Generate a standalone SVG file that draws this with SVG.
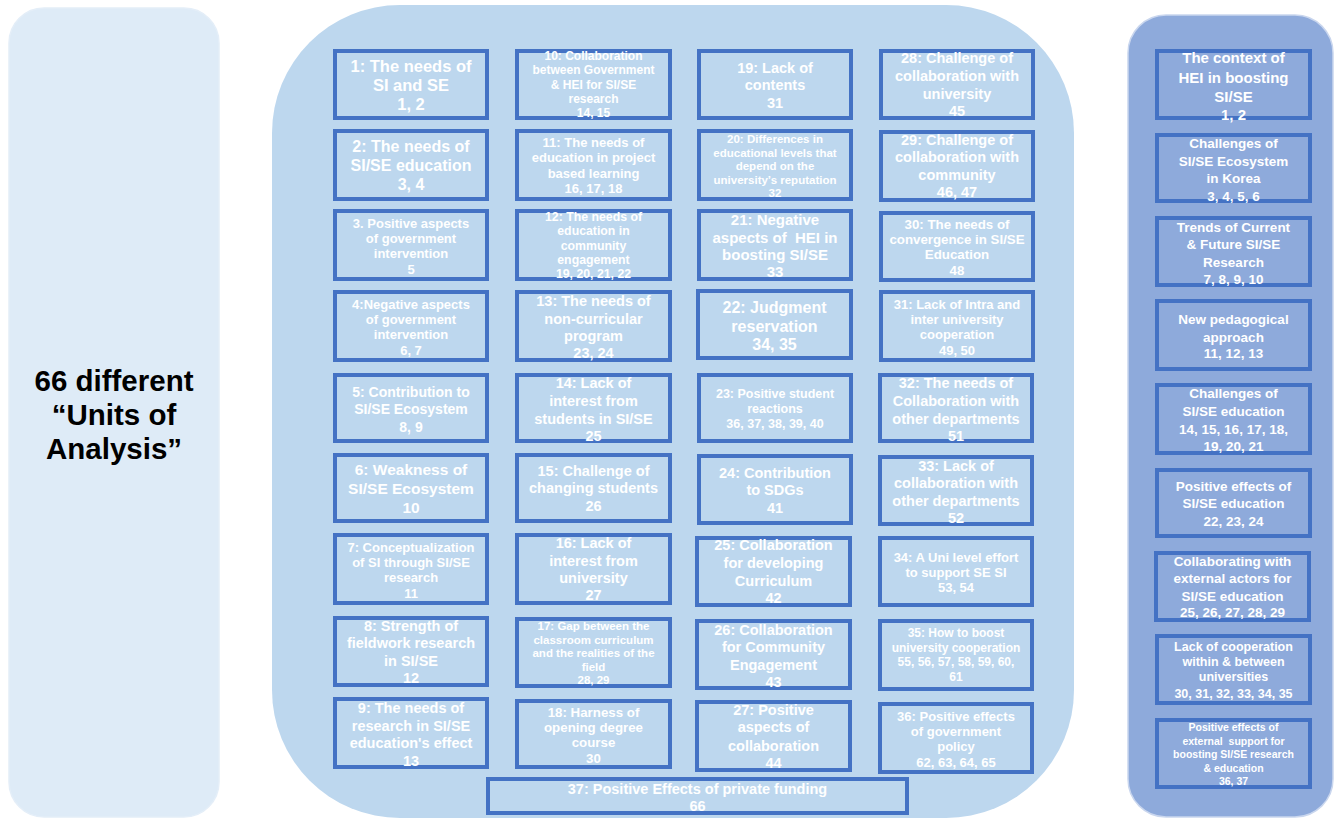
<svg xmlns="http://www.w3.org/2000/svg" width="1335" height="818" viewBox="0 0 1335 818">
<style>
.box{fill:none;stroke:#4472c4;stroke-width:4}
.t{font-family:"Liberation Sans",Arial,sans-serif;font-weight:700;fill:#ffffff;text-anchor:middle;dominant-baseline:central}
.big{font-family:"Liberation Sans",Arial,sans-serif;font-weight:700;fill:#000000;text-anchor:middle;dominant-baseline:central;font-size:29.5px}
</style>
<rect id="panel-left" x="9" y="8" width="210" height="809" rx="35" fill="#deebf7" stroke="#e4eef8" stroke-width="1.5"/>
<rect id="panel-mid" x="272" y="5" width="802" height="813" rx="128" fill="#bdd7ee"/>
<rect id="panel-right" x="1128" y="15" width="205" height="802" rx="38" fill="#8eaadb" stroke="#c9d6ee" stroke-width="1.5"/>
<g id="left-label"><text class="big"><tspan x="114" y="380">66 different</tspan><tspan x="114" y="414">“Units of</tspan><tspan x="114" y="448">Analysis”</tspan></text></g>

<g id="n1"><rect class="box" x="335" y="51" width="152" height="67"/><text class="t" font-size="16.5"><tspan x="411" y="66">1: The needs of</tspan><tspan x="411" y="85">SI and SE</tspan><tspan x="411" y="104">1, 2</tspan></text></g>
<g id="n2"><rect class="box" x="335" y="131" width="152" height="68"/><text class="t" font-size="16"><tspan x="411" y="146">2: The needs of</tspan><tspan x="411" y="165">SI/SE education</tspan><tspan x="411" y="184">3, 4</tspan></text></g>
<g id="n3"><rect class="box" x="335" y="211" width="152" height="68"/><text class="t" font-size="13"><tspan x="411" y="223">3. Positive aspects</tspan><tspan x="411" y="238">of government</tspan><tspan x="411" y="253">intervention</tspan><tspan x="411" y="269">5</tspan></text></g>
<g id="n4"><rect class="box" x="335" y="292" width="152" height="68"/><text class="t" font-size="13"><tspan x="411" y="304">4:Negative aspects</tspan><tspan x="411" y="319">of government</tspan><tspan x="411" y="334">intervention</tspan><tspan x="411" y="350">6, 7</tspan></text></g>
<g id="n5"><rect class="box" x="335" y="375" width="152" height="66"/><text class="t" font-size="14"><tspan x="411" y="392">5: Contribution to</tspan><tspan x="411" y="409">SI/SE Ecosystem</tspan><tspan x="411" y="427">8, 9</tspan></text></g>
<g id="n6"><rect class="box" x="335" y="455" width="152" height="66"/><text class="t" font-size="15.5"><tspan x="411" y="469">6: Weakness of</tspan><tspan x="411" y="488">SI/SE Ecosystem</tspan><tspan x="411" y="507">10</tspan></text></g>
<g id="n7"><rect class="box" x="335" y="535" width="152" height="68"/><text class="t" font-size="13"><tspan x="411" y="547">7: Conceptualization</tspan><tspan x="411" y="562">of SI through SI/SE</tspan><tspan x="411" y="577">research</tspan><tspan x="411" y="593">11</tspan></text></g>
<g id="n8"><rect class="box" x="335" y="618" width="152" height="67"/><text class="t" font-size="14.5"><tspan x="411" y="626">8: Strength of</tspan><tspan x="411" y="643">fieldwork research</tspan><tspan x="411" y="661">in SI/SE</tspan><tspan x="411" y="678">12</tspan></text></g>
<g id="n9"><rect class="box" x="335" y="699" width="152" height="68"/><text class="t" font-size="14.5"><tspan x="411" y="708">9: The needs of</tspan><tspan x="411" y="726">research in SI/SE</tspan><tspan x="411" y="743">education's effect</tspan><tspan x="411" y="761">13</tspan></text></g>

<g id="n10"><rect class="box" x="517" y="51" width="153" height="67"/><text class="t" font-size="12"><tspan x="593.5" y="56">10: Collaboration</tspan><tspan x="593.5" y="70">between Government</tspan><tspan x="593.5" y="84.5">&amp; HEI for SI/SE</tspan><tspan x="593.5" y="99">research</tspan><tspan x="593.5" y="113">14, 15</tspan></text></g>
<g id="n11"><rect class="box" x="517" y="131" width="153" height="68"/><text class="t" font-size="13"><tspan x="593.5" y="142">11: The needs of</tspan><tspan x="593.5" y="157">education in project</tspan><tspan x="593.5" y="172.5">based learning</tspan><tspan x="593.5" y="188">16, 17, 18</tspan></text></g>
<g id="n12"><rect class="box" x="517" y="211" width="153" height="68"/><text class="t" font-size="12.3"><tspan x="593.5" y="217">12: The needs of</tspan><tspan x="593.5" y="231">education in</tspan><tspan x="593.5" y="245.5">community</tspan><tspan x="593.5" y="260">engagement</tspan><tspan x="593.5" y="274">19, 20, 21, 22</tspan></text></g>
<g id="n13"><rect class="box" x="517" y="292" width="153" height="68"/><text class="t" font-size="14.5"><tspan x="593.5" y="301">13: The needs of</tspan><tspan x="593.5" y="318.5">non-curricular</tspan><tspan x="593.5" y="336">program</tspan><tspan x="593.5" y="353">23, 24</tspan></text></g>
<g id="n14"><rect class="box" x="517" y="375" width="153" height="66"/><text class="t" font-size="14.5"><tspan x="593.5" y="383">14: Lack of</tspan><tspan x="593.5" y="401">interest from</tspan><tspan x="593.5" y="419">students in SI/SE</tspan><tspan x="593.5" y="436">25</tspan></text></g>
<g id="n15"><rect class="box" x="517" y="455" width="153" height="66"/><text class="t" font-size="14.5"><tspan x="593.5" y="471">15: Challenge of</tspan><tspan x="593.5" y="488">changing students</tspan><tspan x="593.5" y="506">26</tspan></text></g>
<g id="n16"><rect class="box" x="517" y="535" width="153" height="68"/><text class="t" font-size="14.5"><tspan x="593.5" y="543">16: Lack of</tspan><tspan x="593.5" y="561">interest from</tspan><tspan x="593.5" y="578">university</tspan><tspan x="593.5" y="595">27</tspan></text></g>
<g id="n17"><rect class="box" x="517" y="619" width="153" height="67"/><text class="t" font-size="11.5"><tspan x="593.5" y="626">17: Gap between the</tspan><tspan x="593.5" y="639.5">classroom curriculum</tspan><tspan x="593.5" y="653">and the realities of the</tspan><tspan x="593.5" y="666.5">field</tspan><tspan x="593.5" y="680">28, 29</tspan></text></g>
<g id="n18"><rect class="box" x="517" y="701" width="153" height="66"/><text class="t" font-size="13.3"><tspan x="593.5" y="712">18: Harness of</tspan><tspan x="593.5" y="727">opening degree</tspan><tspan x="593.5" y="742">course</tspan><tspan x="593.5" y="758">30</tspan></text></g>

<g id="n19"><rect class="box" x="699" y="51" width="152" height="67"/><text class="t" font-size="14.5"><tspan x="775" y="68">19: Lack of</tspan><tspan x="775" y="85">contents</tspan><tspan x="775" y="103">31</tspan></text></g>
<g id="n20"><rect class="box" x="699" y="131" width="152" height="68"/><text class="t" font-size="11.5"><tspan x="775" y="139">20: Differences in</tspan><tspan x="775" y="152.5">educational levels that</tspan><tspan x="775" y="166">depend on the</tspan><tspan x="775" y="179.5">university’s reputation</tspan><tspan x="775" y="193">32</tspan></text></g>
<g id="n21"><rect class="box" x="699" y="211" width="152" height="68"/><text class="t" font-size="15" xml:space="preserve"><tspan x="775" y="219">21: Negative</tspan><tspan x="775" y="236.5">aspects of  HEI in</tspan><tspan x="775" y="254">boosting SI/SE</tspan><tspan x="775" y="271">33</tspan></text></g>
<g id="n22"><rect class="box" x="698" y="291" width="153" height="67"/><text class="t" font-size="16"><tspan x="774.5" y="307">22: Judgment</tspan><tspan x="774.5" y="325.5">reservation</tspan><tspan x="774.5" y="344">34, 35</tspan></text></g>
<g id="n23"><rect class="box" x="699" y="375" width="152" height="66"/><text class="t" font-size="12.5"><tspan x="775" y="394">23: Positive student</tspan><tspan x="775" y="409">reactions</tspan><tspan x="775" y="424">36, 37, 38, 39, 40</tspan></text></g>
<g id="n24"><rect class="box" x="699" y="456" width="152" height="67"/><text class="t" font-size="14.5"><tspan x="775" y="473">24: Contribution</tspan><tspan x="775" y="490">to SDGs</tspan><tspan x="775" y="508">41</tspan></text></g>
<g id="n25"><rect class="box" x="697" y="538" width="153" height="67"/><text class="t" font-size="14.5"><tspan x="773.5" y="545">25: Collaboration</tspan><tspan x="773.5" y="563">for developing</tspan><tspan x="773.5" y="581">Curriculum</tspan><tspan x="773.5" y="598">42</tspan></text></g>
<g id="n26"><rect class="box" x="697" y="621" width="153" height="67"/><text class="t" font-size="14.5"><tspan x="773.5" y="630">26: Collaboration</tspan><tspan x="773.5" y="647">for Community</tspan><tspan x="773.5" y="665">Engagement</tspan><tspan x="773.5" y="682">43</tspan></text></g>
<g id="n27"><rect class="box" x="697" y="702" width="153" height="68"/><text class="t" font-size="14.5"><tspan x="773.5" y="710">27: Positive</tspan><tspan x="773.5" y="727">aspects of</tspan><tspan x="773.5" y="746">collaboration</tspan><tspan x="773.5" y="763">44</tspan></text></g>

<g id="n28"><rect class="box" x="881" y="51" width="152" height="67"/><text class="t" font-size="14.5"><tspan x="957" y="58">28: Challenge of</tspan><tspan x="957" y="76">collaboration with</tspan><tspan x="957" y="94">university</tspan><tspan x="957" y="111">45</tspan></text></g>
<g id="n29"><rect class="box" x="881" y="132" width="152" height="68"/><text class="t" font-size="14.5"><tspan x="957" y="140">29: Challenge of</tspan><tspan x="957" y="157">collaboration with</tspan><tspan x="957" y="175">community</tspan><tspan x="957" y="192">46, 47</tspan></text></g>
<g id="n30"><rect class="box" x="881" y="213" width="152" height="67"/><text class="t" font-size="13.3"><tspan x="957" y="224">30: The needs of</tspan><tspan x="957" y="239">convergence in SI/SE</tspan><tspan x="957" y="254">Education</tspan><tspan x="957" y="270">48</tspan></text></g>
<g id="n31"><rect class="box" x="881" y="292" width="152" height="68"/><text class="t" font-size="13"><tspan x="957" y="304">31: Lack of Intra and</tspan><tspan x="957" y="319">inter university</tspan><tspan x="957" y="334">cooperation</tspan><tspan x="957" y="350">49, 50</tspan></text></g>
<g id="n32"><rect class="box" x="880" y="375" width="152" height="66"/><text class="t" font-size="14.5"><tspan x="956" y="383">32: The needs of</tspan><tspan x="956" y="401">Collaboration with</tspan><tspan x="956" y="419">other departments</tspan><tspan x="956" y="436">51</tspan></text></g>
<g id="n33"><rect class="box" x="880" y="457" width="152" height="67"/><text class="t" font-size="14.5"><tspan x="956" y="466">33: Lack of</tspan><tspan x="956" y="483">collaboration with</tspan><tspan x="956" y="501">other departments</tspan><tspan x="956" y="518">52</tspan></text></g>
<g id="n34"><rect class="box" x="880" y="538" width="152" height="67"/><text class="t" font-size="13"><tspan x="956" y="557">34: A Uni level effort</tspan><tspan x="956" y="572">to support SE SI</tspan><tspan x="956" y="587">53, 54</tspan></text></g>
<g id="n35"><rect class="box" x="880" y="621" width="152" height="68"/><text class="t" font-size="12"><tspan x="956" y="633">35: How to boost</tspan><tspan x="956" y="647.5">university cooperation</tspan><tspan x="956" y="662">55, 56, 57, 58, 59, 60,</tspan><tspan x="956" y="677">61</tspan></text></g>
<g id="n36"><rect class="box" x="880" y="704" width="152" height="68"/><text class="t" font-size="13"><tspan x="956" y="716">36: Positive effects</tspan><tspan x="956" y="731">of government</tspan><tspan x="956" y="746">policy</tspan><tspan x="956" y="762">62, 63, 64, 65</tspan></text></g>

<g id="n37"><rect class="box" x="488" y="779" width="419" height="34"/><text class="t" font-size="14.5"><tspan x="697.5" y="789">37: Positive Effects of private funding</tspan><tspan x="697.5" y="806">66</tspan></text></g>

<g id="r1"><rect class="box" x="1157" y="51" width="153" height="67"/><text class="t" font-size="15"><tspan x="1233.5" y="57">The context of</tspan><tspan x="1233.5" y="77">HEI in boosting</tspan><tspan x="1233.5" y="96">SI/SE</tspan><tspan x="1233.5" y="114">1, 2</tspan></text></g>
<g id="r2"><rect class="box" x="1157" y="135" width="153" height="66"/><text class="t" font-size="13.5"><tspan x="1233.5" y="143">Challenges of</tspan><tspan x="1233.5" y="161">SI/SE Ecosystem</tspan><tspan x="1233.5" y="178">in Korea</tspan><tspan x="1233.5" y="196">3, 4, 5, 6</tspan></text></g>
<g id="r3"><rect class="box" x="1157" y="218" width="153" height="67"/><text class="t" font-size="13.5"><tspan x="1233.5" y="227">Trends of Current</tspan><tspan x="1233.5" y="244">&amp; Future SI/SE</tspan><tspan x="1233.5" y="262">Research</tspan><tspan x="1233.5" y="279">7, 8, 9, 10</tspan></text></g>
<g id="r4"><rect class="box" x="1157" y="301" width="153" height="68"/><text class="t" font-size="13.5"><tspan x="1233.5" y="319">New pedagogical</tspan><tspan x="1233.5" y="337">approach</tspan><tspan x="1233.5" y="353">11, 12, 13</tspan></text></g>
<g id="r5"><rect class="box" x="1157" y="385" width="153" height="68"/><text class="t" font-size="13.5"><tspan x="1233.5" y="393">Challenges of</tspan><tspan x="1233.5" y="411">SI/SE education</tspan><tspan x="1233.5" y="429">14, 15, 16, 17, 18,</tspan><tspan x="1233.5" y="446">19, 20, 21</tspan></text></g>
<g id="r6"><rect class="box" x="1157" y="470" width="153" height="66"/><text class="t" font-size="13.5"><tspan x="1233.5" y="486">Positive effects of</tspan><tspan x="1233.5" y="503">SI/SE education</tspan><tspan x="1233.5" y="521">22, 23, 24</tspan></text></g>
<g id="r7"><rect class="box" x="1156" y="553" width="153" height="67"/><text class="t" font-size="13.5"><tspan x="1232.5" y="561">Collaborating with</tspan><tspan x="1232.5" y="578">external actors for</tspan><tspan x="1232.5" y="595.5">SI/SE education</tspan><tspan x="1232.5" y="612">25, 26, 27, 28, 29</tspan></text></g>
<g id="r8"><rect class="box" x="1157" y="636" width="153" height="67"/><text class="t" font-size="12.5"><tspan x="1233.5" y="647">Lack of cooperation</tspan><tspan x="1233.5" y="662">within &amp; between</tspan><tspan x="1233.5" y="677">universities</tspan><tspan x="1233.5" y="694">30, 31, 32, 33, 34, 35</tspan></text></g>
<g id="r9"><rect class="box" x="1157" y="720" width="153" height="67"/><text class="t" font-size="10.5" xml:space="preserve"><tspan x="1233.5" y="727">Positive effects of</tspan><tspan x="1233.5" y="741">external  support for</tspan><tspan x="1233.5" y="754">boosting SI/SE research</tspan><tspan x="1233.5" y="767.5">&amp; education</tspan><tspan x="1233.5" y="781">36, 37</tspan></text></g>
</svg>
